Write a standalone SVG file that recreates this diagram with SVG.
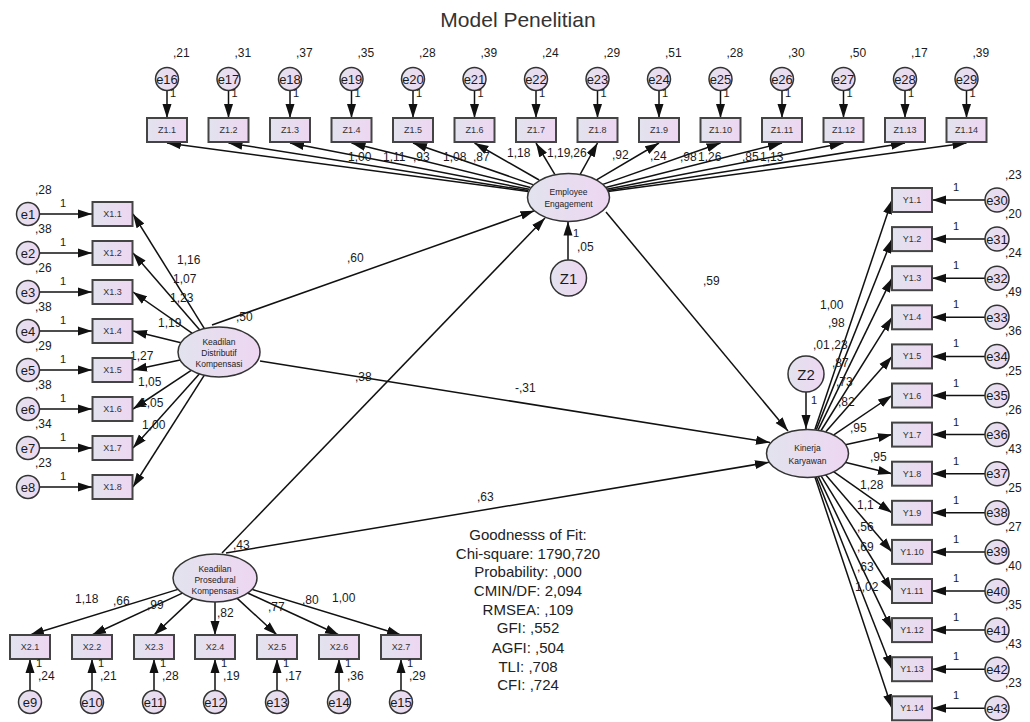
<svg xmlns="http://www.w3.org/2000/svg" width="1030" height="722" viewBox="0 0 1030 722">
<style>
text{font-family:"Liberation Sans",Arial,sans-serif;fill:#1a1a1a}
.ln{stroke:#111;stroke-width:1.5;fill:none;marker-end:url(#ah)}
.bx{fill:url(#gb);stroke:#444;stroke-width:2}
.ci{fill:url(#gb);stroke:#333;stroke-width:1.5}
.el{fill:url(#gb);stroke:#333;stroke-width:1.5}
.lb{font-size:12px}
.one{font-size:11px}
.bt{font-size:9px;text-anchor:middle;fill:#333}
.et{font-size:13px;text-anchor:middle}
.zt{font-size:15px;text-anchor:middle}
.lt{font-size:8.5px;text-anchor:middle;fill:#222}
.ft{font-size:15px;text-anchor:middle;fill:#222}
</style>
<defs>
<linearGradient id="gb" x1="0" y1="0" x2="1" y2="0">
<stop offset="0" stop-color="#e2e3ee"/>
<stop offset="1" stop-color="#eed6f2"/>
</linearGradient>
<marker id="ah" markerUnits="userSpaceOnUse" markerWidth="14" markerHeight="10" refX="14" refY="5" orient="auto">
<path d="M0,0.5 L14,5 L0,9.5 z" fill="#111"/>
</marker>
</defs>
<rect width="1030" height="722" fill="#fff"/>
<text x="518" y="27" style="font-size:21px;text-anchor:middle;fill:#333">Model Penelitian</text>

<g id="connectors">
<line class="ln" x1="167" y1="90.5" x2="167" y2="118"/>
<line class="ln" x1="228.5" y1="90.5" x2="228.5" y2="118"/>
<line class="ln" x1="290" y1="90.5" x2="290" y2="118"/>
<line class="ln" x1="351.5" y1="90.5" x2="351.5" y2="118"/>
<line class="ln" x1="413" y1="90.5" x2="413" y2="118"/>
<line class="ln" x1="474.5" y1="90.5" x2="474.5" y2="118"/>
<line class="ln" x1="536" y1="90.5" x2="536" y2="118"/>
<line class="ln" x1="597.5" y1="90.5" x2="597.5" y2="118"/>
<line class="ln" x1="659" y1="90.5" x2="659" y2="118"/>
<line class="ln" x1="720.5" y1="90.5" x2="720.5" y2="118"/>
<line class="ln" x1="782" y1="90.5" x2="782" y2="118"/>
<line class="ln" x1="843.5" y1="90.5" x2="843.5" y2="118"/>
<line class="ln" x1="905" y1="90.5" x2="905" y2="118"/>
<line class="ln" x1="966.5" y1="90.5" x2="966.5" y2="118"/>
<line class="ln" x1="528.1" y1="191.5" x2="167" y2="143"/>
<line class="ln" x1="528.5" y1="190.6" x2="228.5" y2="143"/>
<line class="ln" x1="529.2" y1="189.3" x2="290" y2="143"/>
<line class="ln" x1="530.4" y1="187.4" x2="351.5" y2="143"/>
<line class="ln" x1="532.9" y1="184.6" x2="413" y2="143"/>
<line class="ln" x1="539.1" y1="180" x2="474.5" y2="143"/>
<line class="ln" x1="554.8" y1="174.3" x2="536" y2="143"/>
<line class="ln" x1="580.3" y1="174.1" x2="597.5" y2="143"/>
<line class="ln" x1="596.5" y1="179.8" x2="659" y2="143"/>
<line class="ln" x1="602.9" y1="184.4" x2="720.5" y2="143"/>
<line class="ln" x1="605.5" y1="187.4" x2="782" y2="143"/>
<line class="ln" x1="606.8" y1="189.3" x2="843.5" y2="143"/>
<line class="ln" x1="607.5" y1="190.6" x2="905" y2="143"/>
<line class="ln" x1="607.9" y1="191.5" x2="966.5" y2="143"/>
<line class="ln" x1="39.5" y1="214" x2="92" y2="214"/>
<line class="ln" x1="39.5" y1="253" x2="92" y2="253"/>
<line class="ln" x1="39.5" y1="292" x2="92" y2="292"/>
<line class="ln" x1="39.5" y1="331" x2="92" y2="331"/>
<line class="ln" x1="39.5" y1="370" x2="92" y2="370"/>
<line class="ln" x1="39.5" y1="409" x2="92" y2="409"/>
<line class="ln" x1="39.5" y1="448" x2="92" y2="448"/>
<line class="ln" x1="39.5" y1="487" x2="92" y2="487"/>
<line class="ln" x1="204.4" y1="328.6" x2="133" y2="214"/>
<line class="ln" x1="199.8" y1="329.9" x2="133" y2="253"/>
<line class="ln" x1="192" y1="333.2" x2="133" y2="292"/>
<line class="ln" x1="180.9" y1="342.7" x2="133" y2="331"/>
<line class="ln" x1="180.2" y1="360.1" x2="133" y2="370"/>
<line class="ln" x1="191.2" y1="370.4" x2="133" y2="409"/>
<line class="ln" x1="199.3" y1="374" x2="133" y2="448"/>
<line class="ln" x1="204.2" y1="375.3" x2="133" y2="487"/>
<line class="ln" x1="30" y1="690.5" x2="30" y2="659"/>
<line class="ln" x1="92" y1="690.5" x2="92" y2="659"/>
<line class="ln" x1="154" y1="690.5" x2="154" y2="659"/>
<line class="ln" x1="215" y1="690.5" x2="215" y2="659"/>
<line class="ln" x1="277" y1="690.5" x2="277" y2="659"/>
<line class="ln" x1="339" y1="690.5" x2="339" y2="659"/>
<line class="ln" x1="401" y1="690.5" x2="401" y2="659"/>
<line class="ln" x1="178" y1="589.4" x2="30" y2="635"/>
<line class="ln" x1="182.4" y1="593.1" x2="92" y2="635"/>
<line class="ln" x1="193" y1="598.4" x2="154" y2="635"/>
<line class="ln" x1="215" y1="602" x2="215" y2="635"/>
<line class="ln" x1="237.2" y1="598.4" x2="277" y2="635"/>
<line class="ln" x1="247.7" y1="593" x2="339" y2="635"/>
<line class="ln" x1="252" y1="589.4" x2="401" y2="635"/>
<line class="ln" x1="985" y1="200" x2="932" y2="200"/>
<line class="ln" x1="985" y1="239.1" x2="932" y2="239.1"/>
<line class="ln" x1="985" y1="278.2" x2="932" y2="278.2"/>
<line class="ln" x1="985" y1="317.3" x2="932" y2="317.3"/>
<line class="ln" x1="985" y1="356.4" x2="932" y2="356.4"/>
<line class="ln" x1="985" y1="395.5" x2="932" y2="395.5"/>
<line class="ln" x1="985" y1="434.6" x2="932" y2="434.6"/>
<line class="ln" x1="985" y1="473.7" x2="932" y2="473.7"/>
<line class="ln" x1="985" y1="512.8" x2="932" y2="512.8"/>
<line class="ln" x1="985" y1="551.9" x2="932" y2="551.9"/>
<line class="ln" x1="985" y1="591" x2="932" y2="591"/>
<line class="ln" x1="985" y1="630.1" x2="932" y2="630.1"/>
<line class="ln" x1="985" y1="669.2" x2="932" y2="669.2"/>
<line class="ln" x1="985" y1="708.3" x2="932" y2="708.3"/>
<line class="ln" x1="814.9" y1="429.4" x2="892" y2="200"/>
<line class="ln" x1="816.3" y1="429.6" x2="892" y2="239.1"/>
<line class="ln" x1="818.2" y1="429.9" x2="892" y2="278.2"/>
<line class="ln" x1="821.1" y1="430.5" x2="892" y2="317.3"/>
<line class="ln" x1="825.8" y1="431.7" x2="892" y2="356.4"/>
<line class="ln" x1="833.8" y1="434.9" x2="892" y2="395.5"/>
<line class="ln" x1="845.4" y1="444.7" x2="892" y2="434.6"/>
<line class="ln" x1="844.9" y1="462.2" x2="892" y2="473.7"/>
<line class="ln" x1="833.2" y1="471.4" x2="892" y2="512.8"/>
<line class="ln" x1="825.4" y1="474.4" x2="892" y2="551.9"/>
<line class="ln" x1="820.9" y1="475.6" x2="892" y2="591"/>
<line class="ln" x1="818.1" y1="476.1" x2="892" y2="630.1"/>
<line class="ln" x1="816.2" y1="476.4" x2="892" y2="669.2"/>
<line class="ln" x1="814.8" y1="476.6" x2="892" y2="708.3"/>
<line class="ln" x1="212" y1="325" x2="534.4" y2="210.7"/>
<line class="ln" x1="222" y1="553" x2="545" y2="218"/>
<line class="ln" x1="260" y1="361" x2="770" y2="442.5"/>
<line class="ln" x1="226" y1="553" x2="769" y2="462.3"/>
<line class="ln" x1="606" y1="212" x2="788" y2="431"/>
<line class="ln" x1="568" y1="260" x2="568" y2="221.5"/>
<line class="ln" x1="806" y1="392" x2="806" y2="429"/>
</g>

<g id="path-labels" class="lb">
<text x="348" y="161">1,00</text>
<text x="383" y="161">1,11</text>
<text x="413" y="161">,93</text>
<text x="443" y="161">1,08</text>
<text x="473" y="161">,87</text>
<text x="507" y="157">1,18</text>
<text x="547" y="157">1,19</text>
<text x="570" y="157">,26</text>
<text x="612" y="159">,92</text>
<text x="650" y="160">,24</text>
<text x="680" y="161">,98</text>
<text x="698" y="161">1,26</text>
<text x="742" y="161">,85</text>
<text x="760" y="161">1,13</text>
<text x="177" y="264">1,16</text>
<text x="173" y="283">1,07</text>
<text x="170" y="302">1,23</text>
<text x="158" y="327">1,19</text>
<text x="130" y="360">1,27</text>
<text x="138" y="386">1,05</text>
<text x="140" y="407">1,05</text>
<text x="142" y="429">1,00</text>
<text x="75" y="603">1,18</text>
<text x="113" y="605">,66</text>
<text x="147" y="609">,99</text>
<text x="217" y="617">,82</text>
<text x="268" y="611">,77</text>
<text x="302" y="604">,80</text>
<text x="332" y="602">1,00</text>
<text x="820" y="309">1,00</text>
<text x="828" y="327">,98</text>
<text x="813" y="349">,01</text>
<text x="831" y="349">,23</text>
<text x="832" y="367">,87</text>
<text x="836" y="386">,73</text>
<text x="838" y="406">,82</text>
<text x="850" y="432">,95</text>
<text x="870" y="461">,95</text>
<text x="860" y="489">1,28</text>
<text x="857" y="509">1,1</text>
<text x="857" y="531">,56</text>
<text x="857" y="551">,69</text>
<text x="857" y="571">,63</text>
<text x="855" y="591">1,02</text>
<text x="347" y="262">,60</text>
<text x="355" y="381">,38</text>
<text x="515" y="392">-,31</text>
<text x="477" y="501">,63</text>
<text x="703" y="285">,59</text>
<text x="236" y="321">,50</text>
<text x="233" y="549">,43</text>
<text x="577" y="251">,05</text>
<text class="one" x="573" y="237">1</text>
<text class="one" x="811" y="404">1</text>
</g>

<g id="e16"><circle class="ci" cx="167" cy="79" r="11.5"/><text class="et" x="167" y="83.5">e16</text><text class="lb" x="173" y="57">,21</text><text class="one" x="170" y="97">1</text></g>
<g id="e17"><circle class="ci" cx="228.5" cy="79" r="11.5"/><text class="et" x="228.5" y="83.5">e17</text><text class="lb" x="234.5" y="57">,31</text><text class="one" x="231.5" y="97">1</text></g>
<g id="e18"><circle class="ci" cx="290" cy="79" r="11.5"/><text class="et" x="290" y="83.5">e18</text><text class="lb" x="296" y="57">,37</text><text class="one" x="293" y="97">1</text></g>
<g id="e19"><circle class="ci" cx="351.5" cy="79" r="11.5"/><text class="et" x="351.5" y="83.5">e19</text><text class="lb" x="357.5" y="57">,35</text><text class="one" x="354.5" y="97">1</text></g>
<g id="e20"><circle class="ci" cx="413" cy="79" r="11.5"/><text class="et" x="413" y="83.5">e20</text><text class="lb" x="419" y="57">,28</text><text class="one" x="416" y="97">1</text></g>
<g id="e21"><circle class="ci" cx="474.5" cy="79" r="11.5"/><text class="et" x="474.5" y="83.5">e21</text><text class="lb" x="480.5" y="57">,39</text><text class="one" x="477.5" y="97">1</text></g>
<g id="e22"><circle class="ci" cx="536" cy="79" r="11.5"/><text class="et" x="536" y="83.5">e22</text><text class="lb" x="542" y="57">,24</text><text class="one" x="539" y="97">1</text></g>
<g id="e23"><circle class="ci" cx="597.5" cy="79" r="11.5"/><text class="et" x="597.5" y="83.5">e23</text><text class="lb" x="603.5" y="57">,29</text><text class="one" x="600.5" y="97">1</text></g>
<g id="e24"><circle class="ci" cx="659" cy="79" r="11.5"/><text class="et" x="659" y="83.5">e24</text><text class="lb" x="665" y="57">,51</text><text class="one" x="662" y="97">1</text></g>
<g id="e25"><circle class="ci" cx="720.5" cy="79" r="11.5"/><text class="et" x="720.5" y="83.5">e25</text><text class="lb" x="726.5" y="57">,28</text><text class="one" x="723.5" y="97">1</text></g>
<g id="e26"><circle class="ci" cx="782" cy="79" r="11.5"/><text class="et" x="782" y="83.5">e26</text><text class="lb" x="788" y="57">,30</text><text class="one" x="785" y="97">1</text></g>
<g id="e27"><circle class="ci" cx="843.5" cy="79" r="11.5"/><text class="et" x="843.5" y="83.5">e27</text><text class="lb" x="849.5" y="57">,50</text><text class="one" x="846.5" y="97">1</text></g>
<g id="e28"><circle class="ci" cx="905" cy="79" r="11.5"/><text class="et" x="905" y="83.5">e28</text><text class="lb" x="911" y="57">,17</text><text class="one" x="908" y="97">1</text></g>
<g id="e29"><circle class="ci" cx="966.5" cy="79" r="11.5"/><text class="et" x="966.5" y="83.5">e29</text><text class="lb" x="972.5" y="57">,39</text><text class="one" x="969.5" y="97">1</text></g>

<g id="Z1_1"><rect class="bx" x="147" y="118" width="40" height="24"/><text class="bt" x="167" y="133">Z1.1</text></g>
<g id="Z1_2"><rect class="bx" x="208.5" y="118" width="40" height="24"/><text class="bt" x="228.5" y="133">Z1.2</text></g>
<g id="Z1_3"><rect class="bx" x="270" y="118" width="40" height="24"/><text class="bt" x="290" y="133">Z1.3</text></g>
<g id="Z1_4"><rect class="bx" x="331.5" y="118" width="40" height="24"/><text class="bt" x="351.5" y="133">Z1.4</text></g>
<g id="Z1_5"><rect class="bx" x="393" y="118" width="40" height="24"/><text class="bt" x="413" y="133">Z1.5</text></g>
<g id="Z1_6"><rect class="bx" x="454.5" y="118" width="40" height="24"/><text class="bt" x="474.5" y="133">Z1.6</text></g>
<g id="Z1_7"><rect class="bx" x="516" y="118" width="40" height="24"/><text class="bt" x="536" y="133">Z1.7</text></g>
<g id="Z1_8"><rect class="bx" x="577.5" y="118" width="40" height="24"/><text class="bt" x="597.5" y="133">Z1.8</text></g>
<g id="Z1_9"><rect class="bx" x="639" y="118" width="40" height="24"/><text class="bt" x="659" y="133">Z1.9</text></g>
<g id="Z1_10"><rect class="bx" x="700.5" y="118" width="40" height="24"/><text class="bt" x="720.5" y="133">Z1.10</text></g>
<g id="Z1_11"><rect class="bx" x="762" y="118" width="40" height="24"/><text class="bt" x="782" y="133">Z1.11</text></g>
<g id="Z1_12"><rect class="bx" x="823.5" y="118" width="40" height="24"/><text class="bt" x="843.5" y="133">Z1.12</text></g>
<g id="Z1_13"><rect class="bx" x="885" y="118" width="40" height="24"/><text class="bt" x="905" y="133">Z1.13</text></g>
<g id="Z1_14"><rect class="bx" x="946.5" y="118" width="40" height="24"/><text class="bt" x="966.5" y="133">Z1.14</text></g>

<g id="e1"><circle class="ci" cx="28" cy="214" r="11.5"/><text class="et" x="28" y="218.5">e1</text><text class="lb" x="35" y="194">,28</text><text class="one" x="60" y="207">1</text></g>
<g id="e2"><circle class="ci" cx="28" cy="253" r="11.5"/><text class="et" x="28" y="257.5">e2</text><text class="lb" x="35" y="233">,38</text><text class="one" x="60" y="246">1</text></g>
<g id="e3"><circle class="ci" cx="28" cy="292" r="11.5"/><text class="et" x="28" y="296.5">e3</text><text class="lb" x="35" y="272">,26</text><text class="one" x="60" y="285">1</text></g>
<g id="e4"><circle class="ci" cx="28" cy="331" r="11.5"/><text class="et" x="28" y="335.5">e4</text><text class="lb" x="35" y="311">,38</text><text class="one" x="60" y="324">1</text></g>
<g id="e5"><circle class="ci" cx="28" cy="370" r="11.5"/><text class="et" x="28" y="374.5">e5</text><text class="lb" x="35" y="350">,29</text><text class="one" x="60" y="363">1</text></g>
<g id="e6"><circle class="ci" cx="28" cy="409" r="11.5"/><text class="et" x="28" y="413.5">e6</text><text class="lb" x="35" y="389">,38</text><text class="one" x="60" y="402">1</text></g>
<g id="e7"><circle class="ci" cx="28" cy="448" r="11.5"/><text class="et" x="28" y="452.5">e7</text><text class="lb" x="35" y="428">,34</text><text class="one" x="60" y="441">1</text></g>
<g id="e8"><circle class="ci" cx="28" cy="487" r="11.5"/><text class="et" x="28" y="491.5">e8</text><text class="lb" x="35" y="467">,23</text><text class="one" x="60" y="480">1</text></g>
<g id="X1_1"><rect class="bx" x="92.5" y="202" width="40" height="24"/><text class="bt" x="112.5" y="217">X1.1</text></g>
<g id="X1_2"><rect class="bx" x="92.5" y="241" width="40" height="24"/><text class="bt" x="112.5" y="256">X1.2</text></g>
<g id="X1_3"><rect class="bx" x="92.5" y="280" width="40" height="24"/><text class="bt" x="112.5" y="295">X1.3</text></g>
<g id="X1_4"><rect class="bx" x="92.5" y="319" width="40" height="24"/><text class="bt" x="112.5" y="334">X1.4</text></g>
<g id="X1_5"><rect class="bx" x="92.5" y="358" width="40" height="24"/><text class="bt" x="112.5" y="373">X1.5</text></g>
<g id="X1_6"><rect class="bx" x="92.5" y="397" width="40" height="24"/><text class="bt" x="112.5" y="412">X1.6</text></g>
<g id="X1_7"><rect class="bx" x="92.5" y="436" width="40" height="24"/><text class="bt" x="112.5" y="451">X1.7</text></g>
<g id="X1_8"><rect class="bx" x="92.5" y="475" width="40" height="24"/><text class="bt" x="112.5" y="490">X1.8</text></g>

<g id="X2_1"><rect class="bx" x="10" y="635" width="40" height="24"/><text class="bt" x="30" y="650">X2.1</text></g>
<g id="X2_2"><rect class="bx" x="72" y="635" width="40" height="24"/><text class="bt" x="92" y="650">X2.2</text></g>
<g id="X2_3"><rect class="bx" x="134" y="635" width="40" height="24"/><text class="bt" x="154" y="650">X2.3</text></g>
<g id="X2_4"><rect class="bx" x="195" y="635" width="40" height="24"/><text class="bt" x="215" y="650">X2.4</text></g>
<g id="X2_5"><rect class="bx" x="257" y="635" width="40" height="24"/><text class="bt" x="277" y="650">X2.5</text></g>
<g id="X2_6"><rect class="bx" x="319" y="635" width="40" height="24"/><text class="bt" x="339" y="650">X2.6</text></g>
<g id="X2_7"><rect class="bx" x="381" y="635" width="40" height="24"/><text class="bt" x="401" y="650">X2.7</text></g>
<g id="e9"><circle class="ci" cx="30" cy="702" r="11.5"/><text class="et" x="30" y="706.5">e9</text><text class="one" x="36" y="667">1</text><text class="lb" x="38" y="680">,24</text></g>
<g id="e10"><circle class="ci" cx="92" cy="702" r="11.5"/><text class="et" x="92" y="706.5">e10</text><text class="one" x="98" y="667">1</text><text class="lb" x="100" y="680">,21</text></g>
<g id="e11"><circle class="ci" cx="154" cy="702" r="11.5"/><text class="et" x="154" y="706.5">e11</text><text class="one" x="160" y="667">1</text><text class="lb" x="162" y="680">,28</text></g>
<g id="e12"><circle class="ci" cx="215" cy="702" r="11.5"/><text class="et" x="215" y="706.5">e12</text><text class="one" x="221" y="667">1</text><text class="lb" x="223" y="680">,19</text></g>
<g id="e13"><circle class="ci" cx="277" cy="702" r="11.5"/><text class="et" x="277" y="706.5">e13</text><text class="one" x="283" y="667">1</text><text class="lb" x="285" y="680">,17</text></g>
<g id="e14"><circle class="ci" cx="339" cy="702" r="11.5"/><text class="et" x="339" y="706.5">e14</text><text class="one" x="345" y="667">1</text><text class="lb" x="347" y="680">,36</text></g>
<g id="e15"><circle class="ci" cx="401" cy="702" r="11.5"/><text class="et" x="401" y="706.5">e15</text><text class="one" x="407" y="667">1</text><text class="lb" x="409" y="680">,29</text></g>

<g id="Y1_1"><rect class="bx" x="892" y="188" width="40" height="24"/><text class="bt" x="912" y="203">Y1.1</text></g>
<g id="Y1_2"><rect class="bx" x="892" y="227.1" width="40" height="24"/><text class="bt" x="912" y="242.1">Y1.2</text></g>
<g id="Y1_3"><rect class="bx" x="892" y="266.2" width="40" height="24"/><text class="bt" x="912" y="281.2">Y1.3</text></g>
<g id="Y1_4"><rect class="bx" x="892" y="305.3" width="40" height="24"/><text class="bt" x="912" y="320.3">Y1.4</text></g>
<g id="Y1_5"><rect class="bx" x="892" y="344.4" width="40" height="24"/><text class="bt" x="912" y="359.4">Y1.5</text></g>
<g id="Y1_6"><rect class="bx" x="892" y="383.5" width="40" height="24"/><text class="bt" x="912" y="398.5">Y1.6</text></g>
<g id="Y1_7"><rect class="bx" x="892" y="422.6" width="40" height="24"/><text class="bt" x="912" y="437.6">Y1.7</text></g>
<g id="Y1_8"><rect class="bx" x="892" y="461.7" width="40" height="24"/><text class="bt" x="912" y="476.7">Y1.8</text></g>
<g id="Y1_9"><rect class="bx" x="892" y="500.8" width="40" height="24"/><text class="bt" x="912" y="515.8">Y1.9</text></g>
<g id="Y1_10"><rect class="bx" x="892" y="539.9" width="40" height="24"/><text class="bt" x="912" y="554.9">Y1.10</text></g>
<g id="Y1_11"><rect class="bx" x="892" y="579" width="40" height="24"/><text class="bt" x="912" y="594">Y1.11</text></g>
<g id="Y1_12"><rect class="bx" x="892" y="618.1" width="40" height="24"/><text class="bt" x="912" y="633.1">Y1.12</text></g>
<g id="Y1_13"><rect class="bx" x="892" y="657.2" width="40" height="24"/><text class="bt" x="912" y="672.2">Y1.13</text></g>
<g id="Y1_14"><rect class="bx" x="892" y="696.3" width="40" height="24"/><text class="bt" x="912" y="711.3">Y1.14</text></g>
<g id="e30"><circle class="ci" cx="997" cy="200" r="12"/><text class="et" x="997" y="204.5">e30</text><text class="one" x="953" y="191">1</text><text class="lb" x="1005" y="179">,23</text></g>
<g id="e31"><circle class="ci" cx="997" cy="239.1" r="12"/><text class="et" x="997" y="243.6">e31</text><text class="one" x="953" y="230.1">1</text><text class="lb" x="1005" y="218.1">,20</text></g>
<g id="e32"><circle class="ci" cx="997" cy="278.2" r="12"/><text class="et" x="997" y="282.7">e32</text><text class="one" x="953" y="269.2">1</text><text class="lb" x="1005" y="257.2">,24</text></g>
<g id="e33"><circle class="ci" cx="997" cy="317.3" r="12"/><text class="et" x="997" y="321.8">e33</text><text class="one" x="953" y="308.3">1</text><text class="lb" x="1005" y="296.3">,49</text></g>
<g id="e34"><circle class="ci" cx="997" cy="356.4" r="12"/><text class="et" x="997" y="360.9">e34</text><text class="one" x="953" y="347.4">1</text><text class="lb" x="1005" y="335.4">,36</text></g>
<g id="e35"><circle class="ci" cx="997" cy="395.5" r="12"/><text class="et" x="997" y="400">e35</text><text class="one" x="953" y="386.5">1</text><text class="lb" x="1005" y="374.5">,25</text></g>
<g id="e36"><circle class="ci" cx="997" cy="434.6" r="12"/><text class="et" x="997" y="439.1">e36</text><text class="one" x="953" y="425.6">1</text><text class="lb" x="1005" y="413.6">,26</text></g>
<g id="e37"><circle class="ci" cx="997" cy="473.7" r="12"/><text class="et" x="997" y="478.2">e37</text><text class="one" x="953" y="464.7">1</text><text class="lb" x="1005" y="452.7">,43</text></g>
<g id="e38"><circle class="ci" cx="997" cy="512.8" r="12"/><text class="et" x="997" y="517.3">e38</text><text class="one" x="953" y="503.8">1</text><text class="lb" x="1005" y="491.8">,25</text></g>
<g id="e39"><circle class="ci" cx="997" cy="551.9" r="12"/><text class="et" x="997" y="556.4">e39</text><text class="one" x="953" y="542.9">1</text><text class="lb" x="1005" y="530.9">,27</text></g>
<g id="e40"><circle class="ci" cx="997" cy="591" r="12"/><text class="et" x="997" y="595.5">e40</text><text class="one" x="953" y="582">1</text><text class="lb" x="1005" y="570">,40</text></g>
<g id="e41"><circle class="ci" cx="997" cy="630.1" r="12"/><text class="et" x="997" y="634.6">e41</text><text class="one" x="953" y="621.1">1</text><text class="lb" x="1005" y="609.1">,35</text></g>
<g id="e42"><circle class="ci" cx="997" cy="669.2" r="12"/><text class="et" x="997" y="673.7">e42</text><text class="one" x="953" y="660.2">1</text><text class="lb" x="1005" y="648.2">,43</text></g>
<g id="e43"><circle class="ci" cx="997" cy="708.3" r="12"/><text class="et" x="997" y="712.8">e43</text><text class="one" x="953" y="699.3">1</text><text class="lb" x="1005" y="687.3">,23</text></g>

<g id="EE"><ellipse class="el" cx="568.5" cy="197.5" rx="41" ry="24"/><text class="lt" x="568.5" y="195">Employee</text><text class="lt" x="568.5" y="207">Engagement</text></g>
<g id="KDK"><ellipse class="el" cx="219" cy="352" rx="41" ry="25"/><text class="lt" x="219" y="345">Keadilan</text><text class="lt" x="219" y="356">Distributif</text><text class="lt" x="219" y="366.5">Kompensasi</text></g>
<g id="KPK"><ellipse class="el" cx="215" cy="578" rx="42" ry="24"/><text class="lt" x="215" y="572">Keadilan</text><text class="lt" x="215" y="583">Prosedural</text><text class="lt" x="215" y="594">Kompensasi</text></g>
<g id="KK"><ellipse class="el" cx="807.5" cy="453.5" rx="41" ry="24"/><text class="lt" x="807.5" y="451">Kinerja</text><text class="lt" x="807.5" y="464">Karyawan</text></g>
<g id="Z1"><circle class="ci" cx="568.5" cy="278" r="18"/><text class="zt" x="568.5" y="283.5">Z1</text></g>
<g id="Z2"><circle class="ci" cx="806" cy="374" r="18"/><text class="zt" x="806" y="379.5">Z2</text></g>

<g id="fit">
<text class="ft" x="528" y="540">Goodnesss of Fit:</text>
<text class="ft" x="528" y="559">Chi-square: 1790,720</text>
<text class="ft" x="528" y="577">Probability: ,000</text>
<text class="ft" x="528" y="596">CMIN/DF: 2,094</text>
<text class="ft" x="528" y="615">RMSEA: ,109</text>
<text class="ft" x="528" y="633">GFI: ,552</text>
<text class="ft" x="528" y="653">AGFI: ,504</text>
<text class="ft" x="528" y="672">TLI: ,708</text>
<text class="ft" x="528" y="690">CFI: ,724</text>
</g>
</svg>
